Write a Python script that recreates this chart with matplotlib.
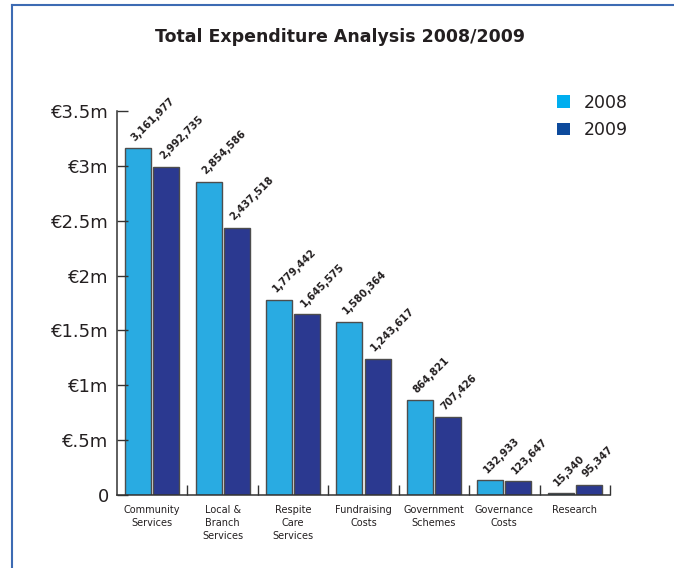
import matplotlib
matplotlib.use("Agg")
import matplotlib.pyplot as plt
from matplotlib.lines import Line2D
from matplotlib.patches import Patch
import numpy as np

categories = ["Community\nServices", "Local &\nBranch\nServices", "Respite\nCare\nServices",
              "Fundraising\nCosts", "Government\nSchemes", "Governance\nCosts", "Research"]
values_2008 = [3161977, 2854586, 1779442, 1580364, 864821, 132933, 15340]
values_2009 = [2992735, 2437518, 1645575, 1243617, 707426, 123647, 95347]
series_labels = ["2008", "2009"]
yticks = [0, 0.5e6, 1e6, 1.5e6, 2e6, 2.5e6, 3e6, 3.5e6]
ytick_labels = ["0", "€.5m", "€1m", "€1.5m", "€2m", "€2.5m", "€3m", "€3.5m"]

bar_colors = ["#29abe2", "#2b3990"]
legend_colors = ["#00aeef", "#0d4a9c"]
frame_color = "#3d6bb3"

fig = plt.figure(figsize=(6.74, 5.68), dpi=100)
ax = fig.add_axes([117 / 674, 1 - 495 / 568, (610 - 117) / 674, (495 - 111) / 568])

x = np.arange(len(categories))
offset = 0.2
width = 0.37
bars08 = ax.bar(x - offset, values_2008, width, color=bar_colors[0], edgecolor="#4d4d4d", linewidth=1)
bars09 = ax.bar(x + offset, values_2009, width, color=bar_colors[1], edgecolor="#4d4d4d", linewidth=1)
# the tiny research bar reads darker because its outline dominates
bars08[-1].set_facecolor("#1d5f7a")

for bars, vals in ((bars08, values_2008), (bars09, values_2009)):
    for b, v in zip(bars, vals):
        ax.annotate(f"{v:,}", xy=(b.get_x() + b.get_width() / 2, v),
                    xytext=(-1, 4), textcoords="offset points",
                    rotation=45, rotation_mode="anchor", ha="left", va="bottom",
                    fontsize=7.3, fontweight="bold", color="#231f20")

ax.set_xlim(-0.5, len(categories) - 0.5)
ax.set_ylim(0, 3.5e6)
ax.set_yticks(yticks)
ax.set_yticklabels(ytick_labels, fontsize=13, color="#231f20")
ax.tick_params(axis="y", direction="in", length=8, width=1, color="#333333", pad=6)

ax.set_xticks(x)
ax.set_xticklabels(categories, fontsize=7, color="#231f20", linespacing=1.4, va="top")
ax.tick_params(axis="x", which="major", length=0, pad=7)
ax.set_xticks(np.arange(len(categories)) + 0.5, minor=True)
ax.tick_params(axis="x", which="minor", direction="in", length=7, width=1, color="#333333")

for side in ("top", "right"):
    ax.spines[side].set_visible(False)
for side in ("left", "bottom"):
    ax.spines[side].set_color("#333333")
    ax.spines[side].set_linewidth(1.1)

fig.text(340 / 674, 1 - 37 / 568, "Total Expenditure Analysis 2008/2009",
         ha="center", va="center", fontsize=12.5, fontweight="bold", color="#231f20")

handles = [Patch(facecolor=c, edgecolor="none") for c in legend_colors]
fig.legend(handles, series_labels, loc="upper left", bbox_to_anchor=(541 / 674, 1 - 78 / 568),
           frameon=False, fontsize=12.5, handlelength=0.75, handleheight=0.75,
           handletextpad=0.8, labelspacing=0.55, labelcolor="#231f20")

# blue page frame along the top and left edges
fig.add_artist(Line2D([12 / 674, 1], [1 - 5 / 568, 1 - 5 / 568], color=frame_color,
                      linewidth=1.5, transform=fig.transFigure))
fig.add_artist(Line2D([12 / 674, 12 / 674], [0, 1 - 5 / 568], color=frame_color,
                      linewidth=1.5, transform=fig.transFigure))

fig.savefig("out.png", dpi=100)
